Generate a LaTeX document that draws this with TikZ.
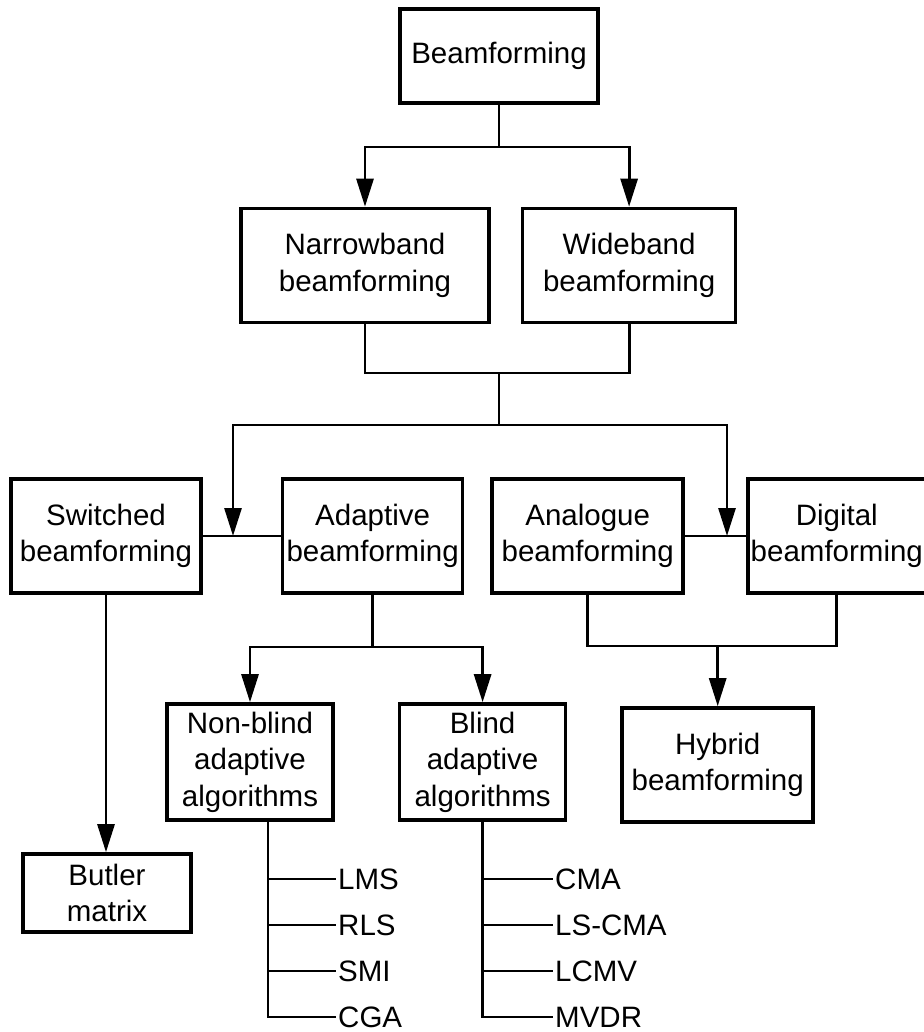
\documentclass[tikz,border=0pt]{standalone}
\usepackage{fontspec}
\setmainfont{Liberation Sans}
\usepackage{tikz}
\usetikzlibrary{arrows.meta,positioning}
\newcommand{\bfsize}{\fontsize{29.5}{36.5}\selectfont}

\begin{document}
\begin{tikzpicture}[x=1pt,y=1pt,
  blk/.style={draw,line width=3.6pt,align=center,inner sep=2pt,font=\bfsize,
    minimum height=114pt},
  alg/.style={font=\bfsize,inner sep=2pt,anchor=west},
  lnk/.style={line width=2.8pt},
  arr/.style={lnk,-{Triangle[length=28pt,width=17pt]}}]
  \useasboundingbox (0,0) rectangle (923,-1032);
  % boxes
  \node[blk,minimum width=198pt,minimum height=94pt] (beam) at (499,-56) {Beamforming};
  \node[blk,minimum width=248pt] (narrow) at (365,-265.5) {Narrowband\\beamforming};
  \node[blk,minimum width=213pt,right=30pt of narrow] (wide) {Wideband\\beamforming};
  \node[blk,minimum width=190pt] (switched) at (106,-536) {Switched\\beamforming};
  \node[blk,minimum width=180pt,right=78pt of switched] (adaptive) {Adaptive\\beamforming};
  \node[blk,minimum width=191pt,right=26pt of adaptive] (analogue) {Analogue\\beamforming};
  \node[blk,minimum width=178pt,right=61pt of analogue] (digital) {Digital\\beamforming};
  \node[blk,minimum width=166pt,minimum height=116pt] (nonblind) at (250,-762)
    {Non-blind\\adaptive\\algorithms};
  \node[blk,minimum width=166pt,minimum height=116pt,right=63pt of nonblind] (blind)
    {Blind\\adaptive\\algorithms};
  \node[blk,minimum width=191pt,right=53pt of blind,yshift=-3pt] (hybrid) {Hybrid\\beamforming};
  \node[blk,minimum width=168pt,minimum height=78pt] (butler) at (107,-893) {Butler\\matrix};
  % algorithm lists
  \node[alg] (lms) at (336,-879) {LMS};
  \node[alg] (rls) at (336,-925) {RLS};
  \node[alg] (smi) at (336,-971) {SMI};
  \node[alg] (cga) at (336,-1017) {CGA};
  \node[alg] (cma) at (553,-879) {CMA};
  \node[alg] (lscma) at (553,-925) {LS-CMA};
  \node[alg] (lcmv) at (553,-971) {LCMV};
  \node[alg] (mvdr) at (553,-1017) {MVDR};
  % branch points
  \coordinate (split1) at (beam.south |- 0,-147);
  \coordinate (join1) at (beam.south |- 0,-373);
  \coordinate (split2) at (beam.south |- 0,-425);
  \coordinate (link1) at (233,-536);
  \coordinate (link2) at (727,-536);
  \coordinate (split3) at (adaptive.south |- 0,-647);
  \coordinate (join2) at (hybrid.north |- 0,-646);
  \coordinate (trunkA) at ([xshift=18pt]nonblind.south);
  \coordinate (trunkB) at (blind.south);
  % connectors
  \draw[lnk] (beam) -- (split1);
  \draw[arr] (split1) -| (narrow);
  \draw[arr] (split1) -| (wide);
  \draw[lnk] (narrow) |- (join1) -| (wide);
  \draw[lnk] (join1) -- (split2);
  \draw[lnk] (switched) -- (adaptive);
  \draw[lnk] (analogue) -- (digital);
  \draw[arr] (split2) -| (link1);
  \draw[arr] (split2) -| (link2);
  \draw[lnk] (adaptive) -- (split3);
  \draw[arr] (split3) -| (nonblind);
  \draw[arr] (split3) -| (blind);
  \draw[lnk] (analogue) |- (join2) -| (digital);
  \draw[arr] (join2) -- (hybrid);
  \draw[arr] (switched) -- (switched |- butler.north);
  \draw[lnk] (trunkA) |- (cga);
  \draw[lnk] (trunkB) |- (mvdr);
  \foreach \n in {lms,rls,smi} \draw[lnk] (trunkA |- \n) -- (\n);
  \foreach \n in {cma,lscma,lcmv} \draw[lnk] (trunkB |- \n) -- (\n);
\end{tikzpicture}
\end{document}
